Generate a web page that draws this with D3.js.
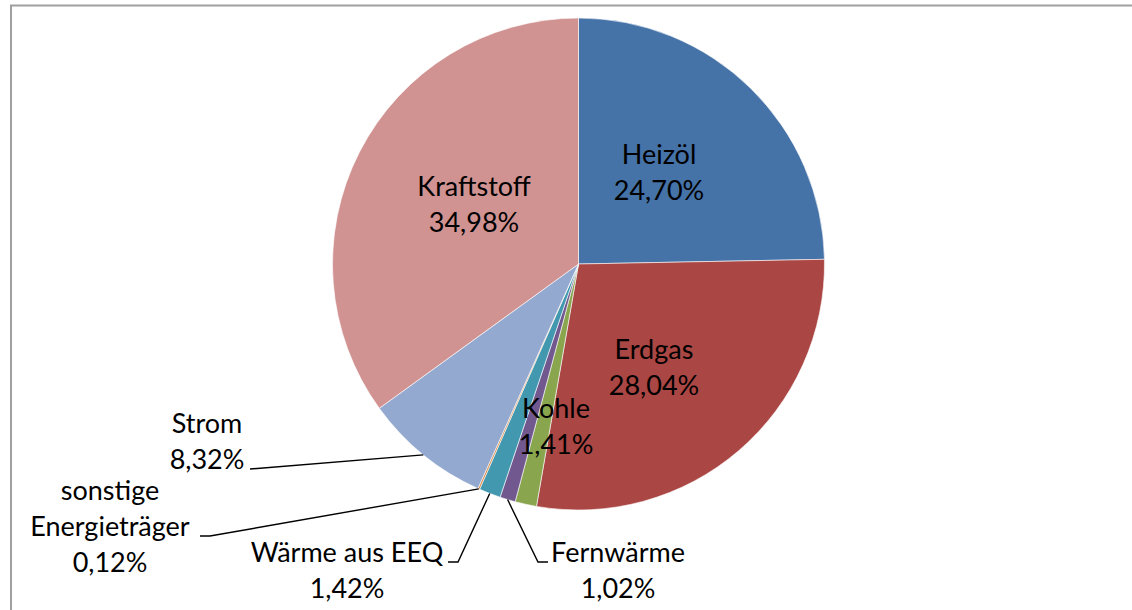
<!DOCTYPE html>
<html>
<head>
<meta charset="utf-8">
<script src="https://cdn.jsdelivr.net/npm/d3@7"></script>
<style>
  body { margin: 0; background: #fff; }
  text { font-family: Lato, "Liberation Sans", sans-serif; font-size: 27px; fill: #000; }
</style>
</head>
<body>
<div id="root"></div>
<script>
// Data: share of final energy use by carrier (clockwise from 12 o'clock).
const categories = ['Heizöl', 'Erdgas', 'Kohle', 'Fernwärme', 'Wärme aus EEQ', 'sonstige Energieträger', 'Strom', 'Kraftstoff'];
const values = [24.70, 28.04, 1.41, 1.02, 1.42, 0.12, 8.32, 34.98];
const valueLabels = ['24,70%', '28,04%', '1,41%', '1,02%', '1,42%', '0,12%', '8,32%', '34,98%'];
const colors = ['#4572A7', '#AA4643', '#89A54E', '#71588F', '#4198AF', '#DB843D', '#93A9CF', '#D19392'];

// Label layout (text lines, anchor, first baseline) and leader-line bends.
const labelLayout = [
  { lines: ['Heizöl'], x: 659, y: 164 },
  { lines: ['Erdgas'], x: 654, y: 359 },
  { lines: ['Kohle'], x: 556, y: 418 },
  { lines: ['Fernwärme'], x: 618, y: 562, leader: [[538, 562], [548, 562]] },
  { lines: ['Wärme aus EEQ'], x: 347, y: 562, leader: [[458, 562], [448, 562]] },
  { lines: ['sonstige', 'Energieträger'], x: 110, y: 500, leader: [[210, 536], [200, 536]] },
  { lines: ['Strom'], x: 207, y: 433, leader: [[250, 469]] },
  { lines: ['Kraftstoff'], x: 474, y: 196 }
];

const W = 1132, H = 610;
const cx = 578.5, cy = 264, radius = 246;
const lineH = 36;

const svg = d3.select('#root')
  .append('svg')
  .attr('width', W)
  .attr('height', H);

// Chart frame (only left and top edges visible).
svg.append('path')
  .attr('d', `M11,${H} L11,5.5 L${W},5.5`)
  .attr('fill', 'none')
  .attr('stroke', '#a0a0a0')
  .attr('stroke-width', 2);

const data = categories.map((c, i) => ({ name: c, value: values[i], label: valueLabels[i], color: colors[i], layout: labelLayout[i] }));

const pie = d3.pie().value(d => d.value).sort(null);
const arc = d3.arc().innerRadius(0).outerRadius(radius);
const edgeArc = d3.arc().innerRadius(radius).outerRadius(radius);

const g = svg.append('g').attr('transform', `translate(${cx},${cy})`);
const arcs = pie(data);

g.selectAll('path.slice')
  .data(arcs)
  .enter()
  .append('path')
  .attr('class', 'slice')
  .attr('d', arc)
  .attr('fill', d => d.data.color)
  .attr('stroke', '#fff')
  .attr('stroke-width', 0.6);

// Leader lines from slice edge to label.
const line = d3.line();
arcs.filter(d => d.data.layout.leader).forEach(d => {
  const p = edgeArc.centroid(d);
  const pts = [[p[0] + cx, p[1] + cy]].concat(d.data.layout.leader);
  svg.append('path')
    .attr('d', line(pts))
    .attr('fill', 'none')
    .attr('stroke', '#000')
    .attr('stroke-width', 1.4);
});

// Labels.
arcs.forEach(d => {
  const l = d.data.layout;
  const t = svg.append('text')
    .attr('text-anchor', 'middle');
  l.lines.concat([d.data.label]).forEach((s, i) => {
    t.append('tspan')
      .attr('x', l.x)
      .attr('y', l.y + i * lineH)
      .text(s);
  });
});
</script>
</body>
</html>
